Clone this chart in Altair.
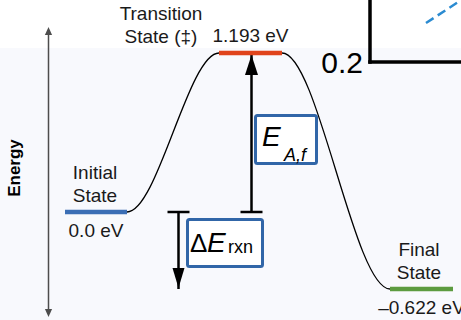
import altair as alt
import pandas as pd

# ---- data ----
state_names = ["Initial\nState", "Transition\nState (‡)", "Final\nState"]
energies = [0.0, 1.193, -0.622]
energy_labels = ["0.0 eV", "1.193 eV", "–0.622 eV"]
coord_start = [65, 219, 390]
coord_end = [127, 282, 453]
name_coord = [95, 161, 419]
level_colors = ["#3b6eb5", "#e0441c", "#5c9b3f"]

arrow_names = ["E_A,f", "ΔE_rxn"]
arrow_coord = [251.5, 178.5]
arrow_from = [0.0, 0.0]
arrow_to = [1.193, -0.622]

levels = pd.DataFrame({
    "state": state_names,
    "energy": energies,
    "label": energy_labels,
    "start": coord_start,
    "end": coord_end,
    "name_x": name_coord,
})

path_coord, path_energy = [], []
for s, e, en in zip(coord_start, coord_end, energies):
    path_coord += [s, e]
    path_energy += [en, en]
path = pd.DataFrame({"coord": path_coord, "energy": path_energy})

arrows = pd.DataFrame({"name": arrow_names, "coord": arrow_coord,
                       "e0": arrow_from, "e1": arrow_to})

dummy = pd.DataFrame({"k": [0]})

FONT = "Liberation Sans"
xs = alt.Scale(domain=[0, 461], range=[0, 461], nice=False, zero=False)
ys = alt.Scale(domain=[-0.622, 0, 1.193], range=[289, 212, 53], nice=False, zero=False)

X = lambda f: alt.X(f, type="quantitative", scale=xs, axis=None)
X2 = lambda f: alt.X2(f)
Y = lambda f: alt.Y(f, type="quantitative", scale=ys, axis=None)

# background band
bg_top = alt.Chart(dummy).mark_rect(color="#ffffff").encode(
    x=alt.value(0), x2=alt.value(461), y=alt.value(0), y2=alt.value(48))

# energy axis arrow
axis_line = alt.Chart(dummy).mark_rule(color="#4d4d4d", strokeWidth=1.5).encode(
    x=alt.value(48.5), y=alt.value(33), y2=alt.value(312))
axis_top = alt.Chart(dummy).mark_point(
    shape="M0,-1L0.9,1L-0.9,1Z", size=64, filled=True, color="#4d4d4d", opacity=1
).encode(x=alt.value(48.5), y=alt.value(31))
axis_bot = alt.Chart(dummy).mark_point(
    shape="M0,1L0.9,-1L-0.9,-1Z", size=64, filled=True, color="#4d4d4d", opacity=1
).encode(x=alt.value(48.5), y=alt.value(313))
axis_title = alt.Chart(dummy).mark_text(
    text="Energy", angle=270, font=FONT, fontSize=17, fontWeight="bold",
    color="#000000", align="center", baseline="middle"
).encode(x=alt.value(15), y=alt.value(168))

# top-right inset fragment
inset_v = alt.Chart(dummy).mark_rule(color="#000000", strokeWidth=3.5, strokeCap="square").encode(
    x=alt.value(370), y=alt.value(-2), y2=alt.value(62))
inset_h = alt.Chart(dummy).mark_rule(color="#000000", strokeWidth=3.5, strokeCap="square").encode(
    x=alt.value(370), x2=alt.value(465), y=alt.value(62))
inset_dash = alt.Chart(dummy).mark_rule(color="#2b8bd1", strokeWidth=2.5, strokeDash=[9, 5]).encode(
    x=alt.value(426), y=alt.value(23), x2=alt.value(472), y2=alt.value(-7))
inset_lbl = alt.Chart(dummy).mark_text(
    text="0.2", font=FONT, fontSize=30, align="right", baseline="alphabetic", color="#000000"
).encode(x=alt.value(363), y=alt.value(73))

# reaction path curve
curve = alt.Chart(path).mark_line(color="#000000", strokeWidth=1.3, interpolate="monotone").encode(
    x=X("coord"), y=Y("energy"), order="coord:Q")

# arrows
shaft = alt.Chart(arrows).mark_rule(color="#000000", strokeWidth=2.5).encode(
    x=X("coord"), y=Y("e0"), y2=alt.Y2("e1"))
cap = alt.Chart(arrows).transform_calculate(
    c0="datum.coord - 11", c1="datum.coord + 11"
).mark_rule(color="#000000", strokeWidth=2.5).encode(
    x=X("c0"), x2=X2("c1"), y=Y("e0"))
head_up = alt.Chart(arrows).transform_filter("datum.e1 > 0").mark_point(
    shape="M0,0.2L0.65,2.2L-0.65,2.2Z", size=400, filled=True, color="#000000", opacity=1
).encode(x=X("coord"), y=Y("e1"))
head_down = alt.Chart(arrows).transform_filter("datum.e1 < 0").mark_point(
    shape="M0,-0.1L0.6,-2.1L-0.6,-2.1Z", size=400, filled=True, color="#000000", opacity=1
).encode(x=X("coord"), y=Y("e1"))

# energy levels
bars = alt.Chart(levels).mark_rule(strokeWidth=4.5, strokeCap="butt").encode(
    x=X("start"), x2=X2("end"), y=Y("energy"),
    color=alt.Color("state:N", scale=alt.Scale(domain=state_names, range=level_colors), legend=None))

names = alt.Chart(levels).mark_text(
    font=FONT, fontSize=19, color="#1a1a1a", align="center", baseline="alphabetic",
    lineBreak="\n", lineHeight=23, dy=-33
).encode(x=X("name_x"), y=Y("energy"), text="state:N")

vals_below = alt.Chart(levels).transform_filter("datum.energy <= 0").transform_calculate(
    mid="(datum.start + datum.end) / 2"
).mark_text(font=FONT, fontSize=19, color="#1a1a1a", align="center", baseline="alphabetic", dy=25
).encode(x=X("mid"), y=Y("energy"), text="label:N")
vals_above = alt.Chart(levels).transform_filter("datum.energy > 0").transform_calculate(
    mid="(datum.start + datum.end) / 2"
).mark_text(font=FONT, fontSize=19, color="#1a1a1a", align="center", baseline="alphabetic", dy=-11
).encode(x=X("mid"), y=Y("energy"), text="label:N")

# label boxes
BOX = "#3166a8"
box_a = alt.Chart(dummy).mark_rect(fill="#ffffff", stroke=BOX, strokeWidth=3, cornerRadius=2).encode(
    x=alt.value(255.5), x2=alt.value(316.5), y=alt.value(115.5), y2=alt.value(163.5))
box_r = alt.Chart(dummy).mark_rect(fill="#ffffff", stroke=BOX, strokeWidth=3, cornerRadius=2).encode(
    x=alt.value(187.5), x2=alt.value(262.5), y=alt.value(219.5), y2=alt.value(266.5))

def txt(t, x, y, size, italic=False):
    return alt.Chart(dummy).mark_text(
        text=t, font=FONT, fontSize=size, fontStyle="italic" if italic else "normal",
        align="left", baseline="alphabetic", color="#000000"
    ).encode(x=alt.value(x), y=alt.value(y))

ea_E = txt("E", 262, 146, 28, True)
ea_sub = txt("A,f", 284, 161, 18, True)
dr_D = txt("Δ", 190, 252, 26)
dr_E = txt("E", 207, 252, 28, True)
dr_sub = txt("rxn", 228, 253, 18)

chart = alt.layer(
    bg_top, axis_line, axis_top, axis_bot, axis_title,
    inset_v, inset_h, inset_dash, inset_lbl,
    curve, shaft, cap, head_up, head_down, bars, names, vals_below, vals_above,
    box_a, box_r, ea_E, ea_sub, dr_D, dr_E, dr_sub,
).properties(
    width=461, height=320, padding=0, autosize="none", background="#f8f9fd"
).configure_view(stroke=None)

chart.save("out.html", embed_options={"renderer": "svg", "actions": False})
